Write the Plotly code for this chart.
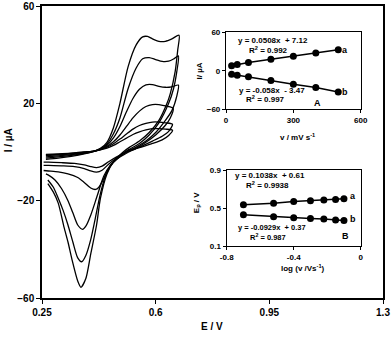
import plotly.graph_objects as go

# ---------------- data ----------------
# main cyclic voltammograms (forward then reverse)
cv1_E = [0.262,0.30,0.34,0.38,0.41,0.43,0.45,0.47,0.49,0.515,0.54,0.56,0.575,0.59,0.61,0.63,0.65,0.672,
         0.668,0.66,0.645,0.635,0.61,0.58,0.55,0.52,0.50,0.47,0.45,0.43,0.418,0.40,0.385,0.37,0.36,0.342,0.33,0.318,0.30,0.285,0.268]
cv1_I = [-3,-2.5,-1.8,-0.8,0.3,1.5,4,10,20,35,44,47.3,47.5,46.5,45.5,45.5,46.5,48,
         42,33,24,20,13,8,4.5,2,0,-4,-9,-19,-30,-42,-52,-55.6,-53,-44,-37,-31,-21,-16.5,-13]

cv2_E = [0.262,0.30,0.34,0.38,0.41,0.43,0.45,0.47,0.49,0.515,0.54,0.56,0.58,0.60,0.62,0.64,0.655,0.67,
         0.665,0.655,0.64,0.61,0.58,0.55,0.52,0.50,0.47,0.45,0.43,0.413,0.40,0.385,0.372,0.36,0.345,0.33,0.315,0.30,0.285,0.268]
cv2_I = [-2.5,-2,-1.4,-0.6,0.3,1.3,3.3,7.5,14,26,34.5,38.3,38.8,38,37.2,37.3,38.2,39.5,
         33,26,20,12,7,3.5,1.2,-0.5,-4,-8,-17,-28,-36,-42.5,-45.1,-43.5,-37,-30,-24,-19,-14.5,-11.5]

cv3_E = [0.262,0.30,0.34,0.38,0.41,0.43,0.45,0.47,0.49,0.51,0.53,0.55,0.57,0.59,0.61,0.63,0.65,0.67,
         0.665,0.65,0.63,0.60,0.57,0.54,0.51,0.48,0.46,0.44,0.42,0.40,0.385,0.375,0.36,0.345,0.33,0.31,0.29,0.27,0.262]
cv3_I = [-2,-1.6,-1.1,-0.4,0.3,1.2,2.8,5.8,10.5,16.5,22,25.8,27.6,27.7,27,26.6,26.8,27.5,
         23,17,13,8,4.5,2,0,-3,-5.5,-10,-18,-26,-30.5,-31.8,-30,-25,-20,-15,-11.5,-9.5,-9]

cv4_E = [0.262,0.30,0.34,0.38,0.41,0.43,0.45,0.47,0.49,0.51,0.53,0.55,0.57,0.59,0.61,0.63,0.645,0.654,
         0.645,0.63,0.60,0.57,0.54,0.51,0.48,0.46,0.44,0.425,0.415,0.40,0.38,0.36,0.33,0.30,0.27,0.255]
cv4_I = [-1.5,-1.2,-0.8,-0.2,0.4,1.1,2.3,4.2,7,10.5,14,16.8,18.7,19.5,19.5,19,18.5,17.9,
         14,11,7,4,1.5,-0.5,-3,-6,-11,-14.5,-15.4,-14.8,-12.5,-10.5,-9,-8.2,-7.8,-7.6]

cv5_E = [0.262,0.30,0.34,0.38,0.41,0.43,0.45,0.47,0.49,0.51,0.53,0.55,0.57,0.59,0.61,0.63,0.652,
         0.64,0.62,0.59,0.55,0.51,0.48,0.455,0.435,0.418,0.40,0.38,0.35,0.31,0.27,0.255]
cv5_I = [-1.2,-1,-0.6,-0.1,0.4,1,2,3.4,5.3,7.4,9.4,10.9,11.8,12.3,12.3,12,11.4,
         8.5,6.5,4.5,2,0,-2.5,-5,-7.5,-8.3,-7.8,-6.8,-6,-5.7,-5.5,-5.5]

cv6_E = [0.262,0.30,0.34,0.38,0.41,0.43,0.45,0.47,0.49,0.51,0.53,0.55,0.57,0.59,0.61,0.63,0.652,
         0.64,0.62,0.59,0.55,0.51,0.48,0.455,0.435,0.418,0.40,0.38,0.35,0.31,0.27,0.255]
cv6_I = [-1,-0.8,-0.5,0,0.4,0.9,1.6,2.7,4.2,5.7,7.2,8.3,9.1,9.6,9.6,9.4,8.9,
         6.8,5,3.5,1.8,0,-2,-4,-5.8,-6.4,-6,-5.3,-4.7,-4.4,-4.2,-4.2]

# inset A: peak current vs scan rate
scan_rate = [25, 50, 100, 200, 300, 400, 500]
ipa = [8, 10, 13, 18, 23, 28, 33]
ipc = [-5.2, -6.7, -9, -15, -21, -26, -33]

# inset B: peak potential vs log(scan rate)
log_v = [-0.70, -0.52, -0.40, -0.30, -0.22, -0.15, -0.10]
epa = [0.537, 0.552, 0.570, 0.578, 0.585, 0.592, 0.599]
epc = [0.43, 0.41, 0.40, 0.39, 0.385, 0.375, 0.37]

main_xticks = [0.25, 0.6, 0.95, 1.3]
main_yticks = [-60, -20, 20, 60]

# ---------------- figure ----------------
FONT = "Liberation Sans"
fig = go.Figure()

for E, I in [(cv1_E, cv1_I), (cv2_E, cv2_I), (cv3_E, cv3_I),
             (cv4_E, cv4_I), (cv5_E, cv5_I), (cv6_E, cv6_I)]:
    fig.add_trace(go.Scatter(x=E, y=I, mode="lines",
                             line=dict(color="black", width=1.3, shape="spline", smoothing=0.7),
                             xaxis="x", yaxis="y", showlegend=False, hoverinfo="skip"))

mk = dict(color="black", size=7)
ln = dict(color="black", width=1.5)
fig.add_trace(go.Scatter(x=scan_rate, y=ipa, mode="lines+markers", marker=mk, line=ln,
                         xaxis="x2", yaxis="y2", showlegend=False))
fig.add_trace(go.Scatter(x=scan_rate, y=ipc, mode="lines+markers", marker=mk, line=ln,
                         xaxis="x2", yaxis="y2", showlegend=False))
fig.add_trace(go.Scatter(x=log_v, y=epa, mode="lines+markers", marker=mk, line=ln,
                         xaxis="x3", yaxis="y3", showlegend=False))
fig.add_trace(go.Scatter(x=log_v, y=epc, mode="lines+markers", marker=mk, line=ln,
                         xaxis="x3", yaxis="y3", showlegend=False))

tf_main = dict(family=FONT, size=10, color="black", weight="bold")
tf_in = dict(family=FONT, size=8, color="black", weight="bold")
axbase = dict(showline=True, linecolor="black", mirror=True, showgrid=False,
              zeroline=False, ticks="outside", tickcolor="black", automargin=False)

fig.update_layout(
    width=391, height=337,
    margin=dict(l=42, r=8, t=6, b=39, autoexpand=False),
    paper_bgcolor="white", plot_bgcolor="white",
    xaxis=dict(range=[0.25, 1.3], tickvals=main_xticks, ticktext=["0.25", "0.6", "0.95", "1.3"],
               tickfont=tf_main, linewidth=1.5, ticklen=4, domain=[0, 1], **axbase),
    yaxis=dict(range=[-60, 60], tickvals=main_yticks, tickfont=tf_main, linewidth=1.5,
               ticklen=4, domain=[0, 1], **axbase),
    xaxis2=dict(range=[0, 600], tickvals=[0, 300, 600], tickfont=tf_in, linewidth=1.2,
                domain=[0.5396, 0.9346], anchor="y2", ticklen=3, **axbase),
    yaxis2=dict(range=[-60, 60], tickvals=[-60, 0, 60], tickfont=tf_in, linewidth=1.2,
                domain=[0.6462, 0.9094], anchor="x2", ticklen=3, **axbase),
    xaxis3=dict(range=[-0.8, 0], tickvals=[-0.8, -0.4, 0], ticktext=["-0.8", "-0.4", "0"], tickfont=tf_in,
                linewidth=1.2, domain=[0.5416, 0.9346], anchor="y3", ticklen=3, **axbase),
    yaxis3=dict(range=[0.1, 0.9], tickvals=[0.1, 0.5, 0.9], ticktext=["0.1", "0.5", "0.9"], tickfont=tf_in,
                linewidth=1.2, domain=[0.1778, 0.4376], anchor="x3", ticklen=3, **axbase),
)

def ann(text, x, y, size=8, angle=0):
    fig.add_annotation(text=text, x=x, y=y, xref="paper", yref="paper", showarrow=False,
                       textangle=angle, xanchor="center", yanchor="middle",
                       font=dict(family=FONT, size=size, color="black", weight="bold"))

# main axis titles
ann("I / µA", -0.0997, 0.540, size=10, angle=-90)
ann("E / V", 0.499, -0.099, size=10)

# inset A
ann("v / mV s<sup>-1</sup>", 0.748, 0.550, size=8)
ann("I/ µA", 0.463, 0.779, size=8, angle=-90)
ann("y = 0.0508x  + 7.12", 0.677, 0.882)
ann("R<sup>2</sup> = 0.992", 0.663, 0.851)
ann("a", 0.889, 0.848, size=9)
ann("b", 0.889, 0.704, size=9)
ann("y = -0.058x  - 3.47", 0.674, 0.709)
ann("R<sup>2</sup> = 0.997", 0.654, 0.680)
ann("A", 0.809, 0.667, size=9)

# inset B
ann("log (v /Vs<sup>-1</sup>)", 0.765, 0.1026, size=8)
ann("E<sub>p</sub> / V", 0.4545, 0.328, size=8, angle=-90)
ann("y = 0.1038x  + 0.61", 0.669, 0.418)
ann("R<sup>2</sup> = 0.9938", 0.660, 0.386)
ann("a", 0.912, 0.349, size=9)
ann("b", 0.912, 0.270, size=9)
ann("y = -0.0929x  + 0.37", 0.674, 0.241, size=7.5)
ann("R<sup>2</sup> = 0.987", 0.663, 0.210, size=7.5)
ann("B", 0.889, 0.212, size=9)

fig.write_html("out.html", config={"displayModeBar": False},
               post_script="document.body.style.margin='0';")
